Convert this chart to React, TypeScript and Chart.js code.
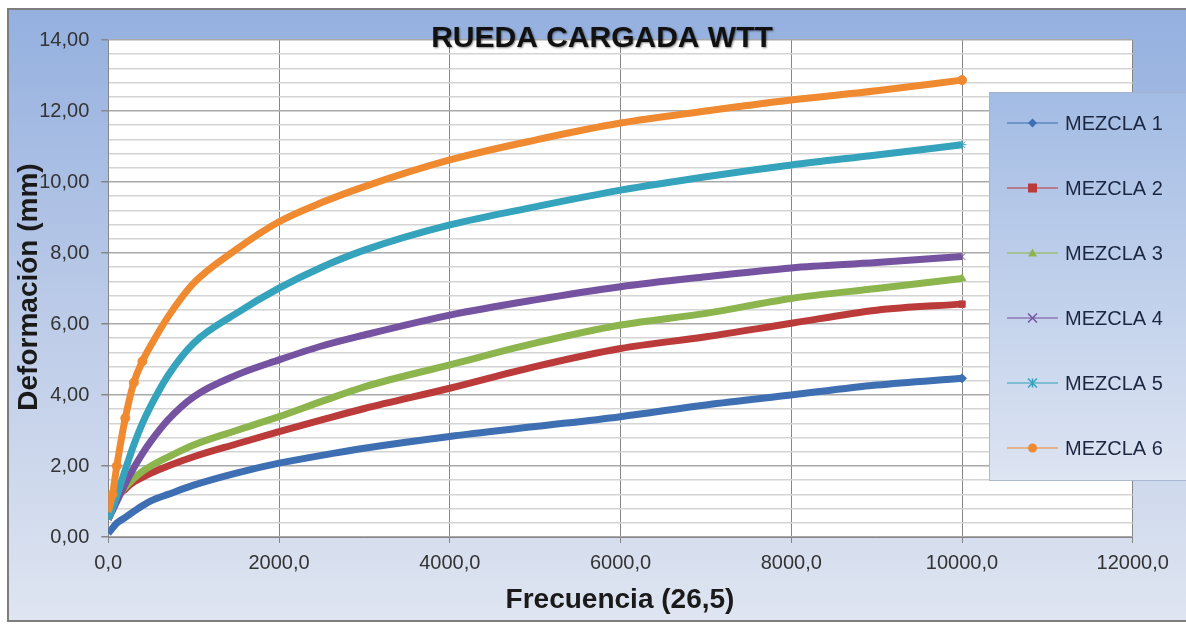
import React, { useEffect, useRef } from "react";
import { Chart, registerables } from "chart.js";

Chart.register(...registerables);

const TITLE = "RUEDA CARGADA WTT";
const X_TITLE = "Frecuencia (26,5)";
const Y_TITLE = "Deformación (mm)";

const FREQ = [0, 50, 100, 200, 300, 400, 500, 700, 1000, 1500, 2000, 2500, 3000, 4000, 5000, 6000, 7000, 8000, 9000, 10000];

const MEZCLA_1 = [0.1, 0.25, 0.39, 0.55, 0.72, 0.88, 1.02, 1.2, 1.46, 1.8, 2.08, 2.3, 2.5, 2.83, 3.11, 3.39, 3.72, 4.0, 4.28, 4.47];
const MEZCLA_2 = [0.5, 0.8, 1.1, 1.35, 1.55, 1.68, 1.8, 2.0, 2.26, 2.62, 2.97, 3.3, 3.62, 4.19, 4.8, 5.31, 5.64, 6.02, 6.39, 6.56];
const MEZCLA_3 = [0.5, 0.8, 1.1, 1.4, 1.65, 1.85, 2.0, 2.25, 2.59, 3.0, 3.39, 3.82, 4.23, 4.85, 5.46, 5.97, 6.3, 6.72, 7.0, 7.28];
const MEZCLA_4 = [0.5, 0.75, 1.0, 1.5, 1.95, 2.35, 2.7, 3.3, 3.95, 4.56, 4.99, 5.38, 5.69, 6.25, 6.68, 7.05, 7.33, 7.58, 7.73, 7.9];
const MEZCLA_5 = [0.5, 0.8, 1.15, 1.9, 2.6, 3.2, 3.7, 4.55, 5.46, 6.3, 7.01, 7.6, 8.08, 8.79, 9.3, 9.77, 10.15, 10.48, 10.76, 11.05];
const MEZCLA_6 = [0.7, 1.2, 2.0, 3.35, 4.35, 4.95, 5.4, 6.2, 7.15, 8.1, 8.88, 9.42, 9.87, 10.62, 11.18, 11.66, 12.0, 12.31, 12.57, 12.87];

const SERIES_NAMES = ["MEZCLA 1", "MEZCLA 2", "MEZCLA 3", "MEZCLA 4", "MEZCLA 5", "MEZCLA 6"];
const SERIES_VALUES = [MEZCLA_1, MEZCLA_2, MEZCLA_3, MEZCLA_4, MEZCLA_5, MEZCLA_6];
const SERIES_COLORS = ["#3f6fb3", "#bb3b3a", "#8db54d", "#7553a1", "#36a3bd", "#f08a30"];
const SERIES_MARKERS = ["rectRot", "rect", "triangle", "crossRot", "star", "circle"];

const X_MIN = 0;
const X_MAX = 12000;
const X_STEP = 2000;
const Y_MIN = 0;
const Y_MAX = 14;
const Y_MINOR_STEP = 0.4;
const Y_MAJOR_STEP = 2;

const FONT = "'Liberation Sans', Arial, sans-serif";

const isMajorY = (v: number) => Math.abs(v / Y_MAJOR_STEP - Math.round(v / Y_MAJOR_STEP)) < 1e-6;

function drawMarker(ctx: CanvasRenderingContext2D, style: string, x: number, y: number, r: number, color: string) {
  ctx.save();
  ctx.fillStyle = color;
  ctx.strokeStyle = color;
  ctx.lineWidth = 1.5;
  ctx.beginPath();
  if (style === "rectRot") {
    ctx.moveTo(x, y - r);
    ctx.lineTo(x + r, y);
    ctx.lineTo(x, y + r);
    ctx.lineTo(x - r, y);
    ctx.closePath();
    ctx.fill();
  } else if (style === "rect") {
    ctx.fillRect(x - r, y - r, 2 * r, 2 * r);
  } else if (style === "triangle") {
    ctx.moveTo(x, y - r);
    ctx.lineTo(x + r, y + r * 0.8);
    ctx.lineTo(x - r, y + r * 0.8);
    ctx.closePath();
    ctx.fill();
  } else if (style === "crossRot") {
    ctx.moveTo(x - r, y - r);
    ctx.lineTo(x + r, y + r);
    ctx.moveTo(x + r, y - r);
    ctx.lineTo(x - r, y + r);
    ctx.stroke();
  } else if (style === "star") {
    ctx.moveTo(x - r, y - r);
    ctx.lineTo(x + r, y + r);
    ctx.moveTo(x + r, y - r);
    ctx.lineTo(x - r, y + r);
    ctx.moveTo(x, y - r);
    ctx.lineTo(x, y + r);
    ctx.stroke();
  } else {
    ctx.arc(x, y, r, 0, Math.PI * 2);
    ctx.fill();
  }
  ctx.restore();
}

const decorPlugin = {
  id: "decor",
  beforeDraw(chart: any) {
    const { ctx, width, height, chartArea } = chart;
    ctx.save();
    const g = ctx.createLinearGradient(0, 0, 0, height);
    g.addColorStop(0, "#94b0df");
    g.addColorStop(0.5, "#bccbe8");
    g.addColorStop(1, "#dfe5f1");
    ctx.fillStyle = g;
    ctx.fillRect(0, 0, width, height);
    ctx.fillStyle = "#ffffff";
    ctx.fillRect(chartArea.left, chartArea.top, chartArea.right - chartArea.left, chartArea.bottom - chartArea.top);
    ctx.restore();
  },
  afterDraw(chart: any) {
    const { ctx, width, height } = chart;
    ctx.save();
    // legend box
    const lx = 982, ly = 84, lw = width - 982 + 2, lh = 388;
    const lg = ctx.createLinearGradient(0, ly, 0, ly + lh);
    lg.addColorStop(0, "#a3bce4");
    lg.addColorStop(1, "#dde4f2");
    ctx.fillStyle = lg;
    ctx.fillRect(lx, ly, lw, lh);
    ctx.strokeStyle = "rgba(160,175,205,0.8)";
    ctx.lineWidth = 1;
    ctx.strokeRect(lx + 0.5, ly + 0.5, lw, lh);
    chart.data.datasets.forEach((ds: any, i: number) => {
      const cy = 115 + i * 65;
      ctx.strokeStyle = ds.borderColor;
      ctx.globalAlpha = 0.7;
      ctx.lineWidth = 1.5;
      ctx.beginPath();
      ctx.moveTo(1000, cy);
      ctx.lineTo(1051, cy);
      ctx.stroke();
      ctx.globalAlpha = 1;
      drawMarker(ctx, SERIES_MARKERS[i], 1025.5, cy, 4.5, ds.borderColor);
      ctx.fillStyle = "#1b2640";
      ctx.font = `20px ${FONT}`;
      ctx.textAlign = "left";
      ctx.textBaseline = "middle";
      ctx.fillText(ds.label, 1058, cy + 1);
    });
    // titles
    ctx.fillStyle = "#111111";
    ctx.shadowColor = "rgba(0,0,0,0.45)";
    ctx.shadowBlur = 2;
    ctx.shadowOffsetX = 1;
    ctx.shadowOffsetY = 1;
    ctx.font = `bold 30px ${FONT}`;
    ctx.textAlign = "center";
    ctx.textBaseline = "alphabetic";
    ctx.fillText(TITLE, 595, 39);
    ctx.shadowColor = "transparent";
    ctx.shadowBlur = 0;
    ctx.shadowOffsetX = 0;
    ctx.shadowOffsetY = 0;
    ctx.fillStyle = "#1a1a1a";
    ctx.font = `bold 28px ${FONT}`;
    ctx.fillText(X_TITLE, 613, 600);
    ctx.translate(30, 279);
    ctx.rotate(-Math.PI / 2);
    ctx.fillText(Y_TITLE, 0, 0);
    ctx.restore();
    // frame
    ctx.save();
    ctx.strokeStyle = "#7d7d7d";
    ctx.lineWidth = 2;
    ctx.beginPath();
    ctx.moveTo(1, height);
    ctx.lineTo(1, 1);
    ctx.lineTo(width, 1);
    ctx.moveTo(0, height - 1);
    ctx.lineTo(width, height - 1);
    ctx.stroke();
    ctx.restore();
  },
};

export default function App() {
  const ref = useRef<HTMLCanvasElement | null>(null);

  useEffect(() => {
    if (!ref.current) return;
    const datasets = SERIES_NAMES.map((name, i) => ({
      label: name,
      data: FREQ.map((f, j) => ({ x: f, y: SERIES_VALUES[i][j] })),
      borderColor: SERIES_COLORS[i],
      backgroundColor: SERIES_COLORS[i],
      borderWidth: 7,
      pointStyle: SERIES_MARKERS[i] as any,
      pointRadius: (c: any) => {
        if (c.dataIndex === FREQ.length - 1) return 4.5;
        if (i === 5 && c.dataIndex > 0 && c.dataIndex <= 5) return 4.5;
        return 0;
      },
      pointBorderWidth: 1,
      cubicInterpolationMode: "monotone" as const,
      order: SERIES_NAMES.length - i,
      showLine: true,
    }));
    const chart = new Chart(ref.current, {
      type: "scatter",
      data: { datasets },
      plugins: [decorPlugin],
      options: {
        animation: false,
        responsive: false,
        maintainAspectRatio: false,
        layout: { padding: { left: 0, top: 32, right: 53.25, bottom: 0 } },
        plugins: {
          legend: { display: false },
          tooltip: { enabled: false },
          title: { display: false },
        },
        scales: {
          x: {
            type: "linear",
            min: X_MIN,
            max: X_MAX,
            afterFit: (s: any) => {
              s.height = 85;
            },
            ticks: {
              stepSize: X_STEP,
              color: "#333333",
              font: { family: FONT, size: 20 },
              padding: 8,
              maxRotation: 0,
              callback: (v: any) => Number(v).toFixed(1).replace(".", ","),
            },
            grid: { color: "#868686", lineWidth: 1, tickLength: 6, tickColor: "#868686" },
            border: { color: "#868686", width: 1 },
          },
          y: {
            type: "linear",
            min: Y_MIN,
            max: Y_MAX,
            afterFit: (s: any) => {
              s.width = 101.25;
            },
            ticks: {
              stepSize: Y_MINOR_STEP,
              autoSkip: false,
              color: "#333333",
              font: { family: FONT, size: 20 },
              padding: 12,
              callback: (v: any) => (isMajorY(Number(v)) ? Number(v).toFixed(2).replace(".", ",") : ""),
            },
            grid: {
              color: (c: any) => (c.tick && isMajorY(c.tick.value) ? "#a9a9a9" : "#d4d4d4"),
              lineWidth: 1.5,
              tickLength: 7,
              tickColor: (c: any) => (c.tick && isMajorY(c.tick.value) ? "#868686" : "rgba(0,0,0,0)"),
            },
            border: { color: "#868686", width: 1 },
          },
        },
      },
    });
    return () => chart.destroy();
  }, []);

  return (
    <div style={{ position: "fixed", left: 7, top: 8, width: 1179, height: 614 }}>
      <canvas ref={ref} width={1179} height={614} style={{ display: "block" }} />
    </div>
  );
}
